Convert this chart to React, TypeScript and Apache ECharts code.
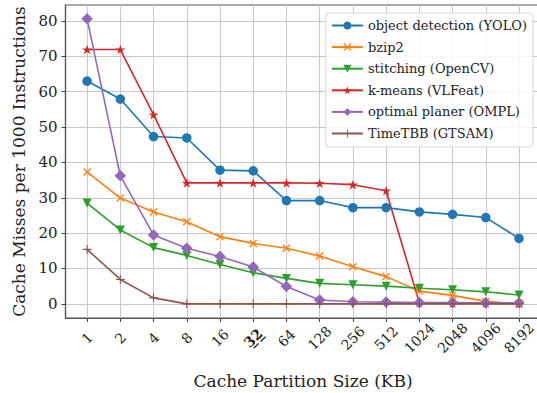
import React, { useEffect, useRef } from "react";
import * as echarts from "echarts";

const categories = ["1", "2", "4", "8", "16", "32", "64", "128", "256", "512", "1024", "2048", "4096", "8192"];
const yTicks = [0, 10, 20, 30, 40, 50, 60, 70, 80];

const yolo = [63.0, 57.9, 47.3, 46.9, 37.8, 37.6, 29.2, 29.2, 27.2, 27.2, 26.0, 25.3, 24.4, 18.5];
const bzip2 = [37.3, 29.9, 26.0, 23.2, 19.0, 17.1, 15.7, 13.5, 10.5, 7.7, 3.6, 2.4, 0.7, 0.0];
const stitching = [28.5, 20.9, 15.9, 13.7, 11.1, 8.8, 7.2, 5.8, 5.4, 5.0, 4.4, 4.0, 3.4, 2.5];
const kmeans = [71.9, 71.9, 53.5, 34.2, 34.2, 34.2, 34.2, 34.1, 33.7, 32.0, 0.3, 0.2, 0.2, 0.1];
const ompl = [80.6, 36.2, 19.5, 15.7, 13.4, 10.4, 4.9, 1.1, 0.6, 0.5, 0.4, 0.4, 0.3, 0.3];
const gtsam = [15.4, 6.9, 1.7, 0.0, 0.0, 0.0, 0.0, 0.0, 0.0, 0.0, 0.0, 0.0, 0.0, 0.0];

const seriesNames = [
  "object detection (YOLO)",
  "bzip2",
  "stitching (OpenCV)",
  "k-means (VLFeat)",
  "optimal planer (OMPL)",
  "TimeTBB (GTSAM)",
];
const colors = ["#1f77b4", "#ff7f0e", "#2ca02c", "#d62728", "#9467bd", "#8c564b"];

const STAR = "path://M50,0 L61.2,34.5 L97.6,34.5 L68.2,55.9 L79.4,90.5 L50,69.1 L20.6,90.5 L31.8,55.9 L2.4,34.5 L38.8,34.5 Z";
const XMARK = "path://M1.2,0 L5,3.8 L8.8,0 L10,1.2 L6.2,5 L10,8.8 L8.8,10 L5,6.2 L1.2,10 L0,8.8 L3.8,5 L0,1.2 Z";
const PLUS = "path://M4.4,0 H5.6 V4.4 H10 V5.6 H5.6 V10 H4.4 V5.6 H0 V4.4 H4.4 Z";

const FONT = "DejaVu Serif";

export default function App() {
  const ref = useRef<HTMLDivElement>(null);
  useEffect(() => {
    if (!ref.current) return;
    const chart = echarts.init(ref.current, undefined, { renderer: "svg" });
    const toPts = (arr: number[]) => arr.map((v, i) => [i, v]);
    const datasets = [yolo, bzip2, stitching, kmeans, ompl, gtsam];
    const symbols = ["circle", XMARK, "triangle", STAR, "diamond", PLUS];
    const sizes = [9.5, 8, 9, 10, 11.5, 9];
    const rotates = [0, 0, 180, 0, 0, 0];
    const idx = categories.map((_, i) => i);
    chart.setOption({
      animation: false,
      textStyle: { fontFamily: FONT },
      grid: {
        left: 65.5, right: -3.6, top: 5, bottom: 75,
        outerBoundsMode: "none",
        containLabel: false,
        show: true, borderColor: "#555", borderWidth: 1.2, backgroundColor: "transparent",
      },
      legend: {
        orient: "vertical",
        right: 4,
        top: 13,
        padding: [6, 6, 7, 5],
        itemWidth: 31,
        itemHeight: 10,
        itemGap: 8.6,
        backgroundColor: "rgba(255,255,255,0.85)",
        borderColor: "#d6d6d6",
        borderWidth: 1,
        borderRadius: 3,
        textStyle: { fontFamily: FONT, fontSize: 13, color: "#222" },
        data: seriesNames,
      },
      xAxis: {
        type: "value",
        min: -0.65,
        max: 13.65,
        name: "Cache Partition Size (KB)",
        nameLocation: "middle",
        nameGap: 54,
        nameTextStyle: { fontFamily: FONT, fontSize: 17, color: "#222" },
        axisLine: { show: true, onZero: false, lineStyle: { color: "#555", width: 1.2 } },
        axisTick: { show: true, customValues: idx, length: 4, lineStyle: { color: "#444" } },
        axisLabel: {
          customValues: idx,
          rotate: 45,
          align: "center",
          verticalAlign: "middle",
          margin: 20,
          fontFamily: FONT,
          fontSize: 14,
          color: "#222",
          formatter: (v: number) => {
            const c = categories[Math.round(v)];
            return c === "32" ? "{b|3\u03322\u0332}" : c;
          },
          rich: { b: { fontWeight: "bold", fontFamily: FONT, fontSize: 14, color: "#222" } },
        },
        splitLine: { show: true, lineStyle: { color: "#c8c8c8", width: 1 } },
      },
      yAxis: {
        type: "value",
        min: -4,
        max: 84.5,
        name: "Cache Misses per 1000 Instructions",
        nameLocation: "middle",
        nameGap: 38,
        nameTextStyle: { fontFamily: FONT, fontSize: 17, color: "#222" },
        axisLine: { show: true, onZero: false, lineStyle: { color: "#555", width: 1.2 } },
        axisTick: { show: true, customValues: yTicks, length: 4, lineStyle: { color: "#444" } },
        axisLabel: { customValues: yTicks, margin: 8, fontFamily: FONT, fontSize: 15, color: "#222" },
        splitLine: { show: true, lineStyle: { color: "#c8c8c8", width: 1 } },
      },
      series: datasets.map((d, k) => ({
        type: "line",
        name: seriesNames[k],
        data: toPts(d),
        symbol: symbols[k],
        symbolSize: sizes[k],
        symbolRotate: rotates[k],
        symbolKeepAspect: true,
        showAllSymbol: true,
        color: colors[k],
        lineStyle: { width: 1.6, color: colors[k] },
        itemStyle: { color: colors[k], borderWidth: 0 },
        clip: false,
      })),
    });
    return () => chart.dispose();
  }, []);
  return <div ref={ref} style={{ position: "absolute", left: 0, top: 0, width: 537, height: 393 }} />;
}
